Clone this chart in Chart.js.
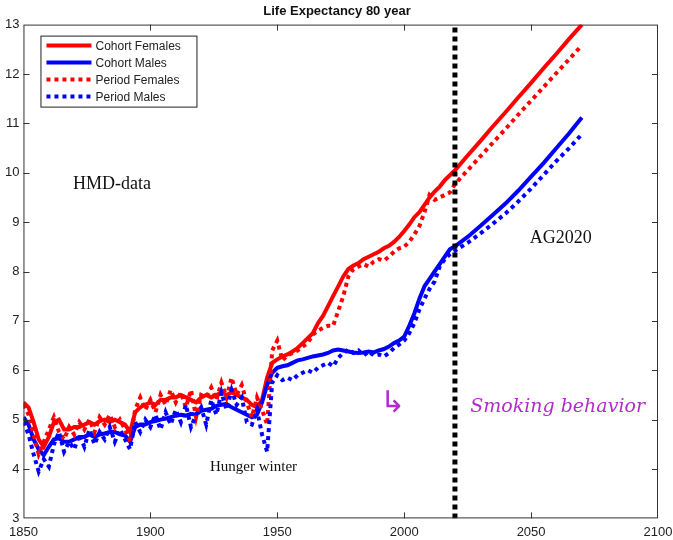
<!DOCTYPE html>
<html>
<head>
<meta charset="utf-8">
<script src="https://cdn.jsdelivr.net/npm/chart.js@4.4.0/dist/chart.umd.min.js"></script>
<style>
  html, body { margin: 0; padding: 0; background: #fff; }
  #wrap { width: 673px; height: 540px; }
</style>
</head>
<body>
<div id="wrap"><canvas id="chart"></canvas></div>
<script>
// years: two-yearly history, five-yearly projection
const years = [
  1850, 1852, 1854, 1856, 1858, 1860, 1862, 1864, 1866, 1868,
  1870, 1872, 1874, 1876, 1878, 1880, 1882, 1884, 1886, 1888,
  1890, 1892, 1894, 1896, 1898, 1900, 1902, 1904, 1906, 1908,
  1910, 1912, 1914, 1916, 1918, 1920, 1922, 1924, 1926, 1928,
  1930, 1932, 1934, 1936, 1938, 1940, 1942, 1944, 1946, 1948,
  1950, 1952, 1954, 1956, 1958, 1960, 1962, 1964, 1966, 1968,
  1970, 1972, 1974, 1976, 1978, 1980, 1982, 1984, 1986, 1988,
  1990, 1992, 1994, 1996, 1998, 2000, 2002, 2004, 2006, 2008,
  2010, 2012, 2014, 2016, 2018, 2020,
  2025, 2030, 2035, 2040, 2045, 2050, 2055, 2060, 2065, 2070
];

const cohortFemales = [
  5.35, 5.25, 4.95, 4.6, 4.45, 4.65, 4.95, 5.0, 4.8, 4.8,
  4.85, 4.85, 4.9, 4.95, 4.9, 4.97, 5.0, 4.95, 5.0, 4.95,
  4.9, 4.75, 5.15, 5.25, 5.3, 5.35, 5.3, 5.4, 5.4, 5.45,
  5.45, 5.5, 5.45, 5.4, 5.35, 5.45, 5.5, 5.45, 5.5, 5.55,
  5.5, 5.55, 5.5, 5.45, 5.4, 5.3, 5.25, 5.4, 5.85, 6.15,
  6.22, 6.28, 6.32, 6.38, 6.45, 6.55, 6.65, 6.75, 6.95, 7.1,
  7.3, 7.5, 7.7, 7.9, 8.05, 8.12, 8.17, 8.25, 8.3, 8.35,
  8.4, 8.47, 8.52, 8.6, 8.7, 8.82, 8.95, 9.1, 9.2, 9.35,
  9.5, 9.62, 9.72, 9.85, 9.95, 10.05,
  10.35, 10.64, 10.94, 11.23, 11.53, 11.82, 12.12, 12.41, 12.71, 13.0
];

const cohortMales = [
  5.05, 4.9, 4.6, 4.4, 4.28, 4.45, 4.6, 4.62, 4.55, 4.55,
  4.6, 4.65, 4.65, 4.7, 4.65, 4.7, 4.72, 4.75, 4.75, 4.7,
  4.68, 4.55, 4.85, 4.9, 4.9, 4.95, 4.97, 5.0, 5.02, 5.05,
  5.08, 5.1, 5.08, 5.12, 5.1, 5.18, 5.2, 5.22, 5.28, 5.3,
  5.32, 5.25, 5.2, 5.15, 5.1, 5.05, 5.1, 5.35, 5.7, 5.95,
  6.05, 6.08, 6.1, 6.15, 6.2, 6.22, 6.25, 6.28, 6.3, 6.32,
  6.35, 6.4, 6.42, 6.4, 6.38, 6.36, 6.35, 6.36, 6.38, 6.36,
  6.4, 6.43, 6.48, 6.55, 6.6, 6.68, 6.9, 7.15, 7.45, 7.7,
  7.85, 8.0, 8.15, 8.3, 8.45, 8.51,
  8.7, 8.92, 9.15, 9.38, 9.64, 9.92, 10.2, 10.5, 10.8, 11.12
];

const periodFemales = [
  5.3, 5.1, 4.7, 4.3, 4.55, 4.8, 5.05, 4.75, 4.6, 4.85,
  4.7, 4.95, 4.8, 5.0, 4.75, 5.05, 4.9, 5.1, 4.85, 5.0,
  4.8, 4.55, 5.2, 5.45, 5.2, 5.4, 5.15, 5.5, 5.3, 5.6,
  5.35, 5.55, 5.25, 5.6, 5.05, 5.5, 5.45, 5.65, 5.4, 5.75,
  5.45, 5.85, 5.5, 5.7, 5.35, 5.05, 5.45, 5.2, 4.9, 6.4,
  6.6, 6.2, 6.3, 6.35, 6.4, 6.48, 6.55, 6.72, 6.8, 6.86,
  6.9, 6.9, 7.2, 7.5, 7.9, 8.05, 8.1, 8.15, 8.1, 8.2,
  8.25, 8.22, 8.3, 8.4, 8.47, 8.5, 8.6, 8.75, 8.92, 9.2,
  9.55, 9.45, 9.5, 9.55, 9.6, 9.77,
  10.05, 10.33, 10.61, 10.89, 11.18, 11.46, 11.74, 12.02, 12.3, 12.58
];

const periodMales = [
  4.95, 4.7, 4.3, 3.95, 4.2, 4.05, 4.5, 4.75, 4.35, 4.55,
  4.4, 4.7, 4.45, 4.8, 4.5, 4.75, 4.6, 4.85, 4.55, 4.8,
  4.6, 4.4, 4.95, 4.75, 5.0, 4.85, 5.1, 4.8, 5.15, 4.9,
  5.2, 4.95, 5.3, 4.85, 5.1, 5.25, 4.9, 5.4, 5.1, 5.55,
  5.2, 5.6, 5.3, 5.45, 4.95, 4.9, 5.2, 4.7, 4.35, 5.75,
  5.9, 5.8, 5.85, 5.8, 5.9, 5.95, 6.0, 5.95, 6.05, 6.1,
  6.15, 6.08, 6.25, 6.35, 6.42, 6.35, 6.4, 6.3, 6.38, 6.3,
  6.32, 6.28, 6.35, 6.45, 6.52, 6.6, 6.75, 6.95, 7.23, 7.45,
  7.65, 7.8, 8.1, 8.25, 8.35, 8.42,
  8.58, 8.77, 8.97, 9.18, 9.42, 9.68, 9.96, 10.24, 10.5, 10.78
];

const seriesNames = ['Cohort Females', 'Cohort Males', 'Period Females', 'Period Males'];
const xTicks = [1850, 1900, 1950, 2000, 2050, 2100];
const yTicks = [3, 4, 5, 6, 7, 8, 9, 10, 11, 12, 13];
const cutYear = [2020, 2020];
const cutRange = [3, 13];

const RED = '#ff0000';
const BLUE = '#0000ff';
const AXIS = '#333333';
const SANS = '"Liberation Sans", Arial, sans-serif';

const toPoints = vals => years.map((x, i) => ({ x, y: vals[i] }));

// frame, inward ticks, legend box and the text notes
const decorations = {
  id: 'decorations',
  afterDatasetsDraw(chart) {
    const { ctx, chartArea: a, scales } = chart;
    const xs = scales.x, ys = scales.y;
    ctx.save();
    ctx.strokeStyle = AXIS;
    ctx.lineWidth = 1;
    ctx.strokeRect(a.left + 0.5, a.top + 0.5, a.right - a.left - 1, a.bottom - a.top - 1);
    ctx.beginPath();
    xTicks.slice(1, -1).forEach(v => {
      const px = Math.round(xs.getPixelForValue(v)) + 0.5;
      ctx.moveTo(px, a.bottom); ctx.lineTo(px, a.bottom - 6);
      ctx.moveTo(px, a.top); ctx.lineTo(px, a.top + 6);
    });
    yTicks.slice(1, -1).forEach(v => {
      const py = Math.round(ys.getPixelForValue(v)) + 0.5;
      ctx.moveTo(a.left, py); ctx.lineTo(a.left + 6, py);
      ctx.moveTo(a.right, py); ctx.lineTo(a.right - 6, py);
    });
    ctx.stroke();

    // legend
    const lx = a.left + 17, ly = a.top + 11, lw = 156, lh = 71;
    ctx.fillStyle = '#fff';
    ctx.fillRect(lx, ly, lw, lh);
    ctx.strokeStyle = '#222';
    ctx.strokeRect(lx + 0.5, ly + 0.5, lw, lh);
    chart.data.datasets.slice(1).forEach((ds, i) => {
      const row = ly + 10 + i * 17;
      ctx.beginPath();
      ctx.strokeStyle = ds.borderColor;
      ctx.lineWidth = 4;
      ctx.setLineDash(ds.borderDash || []);
      ctx.moveTo(lx + 6, row); ctx.lineTo(lx + 51, row);
      ctx.stroke();
      ctx.setLineDash([]);
      ctx.fillStyle = '#222';
      ctx.font = '12px ' + SANS;
      ctx.textBaseline = 'middle';
      ctx.fillText(ds.label, lx + 55, row + 1);
    });

    // notes
    ctx.fillStyle = '#111';
    ctx.textBaseline = 'alphabetic';
    ctx.font = '18px "Liberation Serif", "Times New Roman", serif';
    ctx.fillText('HMD-data', xs.getPixelForValue(1869.5), ys.getPixelForValue(9.68));
    ctx.fillText('AG2020', xs.getPixelForValue(2049.5), ys.getPixelForValue(8.58));
    ctx.font = '15px "Liberation Serif", "Times New Roman", serif';
    ctx.fillText('Hunger winter', xs.getPixelForValue(1923.5), ys.getPixelForValue(3.96));

    ctx.fillStyle = '#b22ccc';
    ctx.font = '30px "DejaVu Sans", sans-serif';
    ctx.fillText('\u21b3', xs.getPixelForValue(1990.5), ys.getPixelForValue(5.15));
    ctx.font = 'italic 19px "DejaVu Serif", serif';
    ctx.fillText('Smoking behavior', xs.getPixelForValue(2026), ys.getPixelForValue(5.15));
    ctx.restore();
  }
};

new Chart(document.getElementById('chart'), {
  type: 'line',
  data: {
    datasets: [
      {
        label: '2020',
        data: cutYear.map((x, i) => ({ x, y: cutRange[i] })),
        borderColor: '#000',
        borderWidth: 5,
        borderDash: [5, 4],
        pointRadius: 0,
        order: 0
      },
      {
        label: seriesNames[0],
        data: toPoints(cohortFemales),
        borderColor: RED,
        borderWidth: 4,
        pointRadius: 0,
        tension: 0,
        order: 4
      },
      {
        label: seriesNames[1],
        data: toPoints(cohortMales),
        borderColor: BLUE,
        borderWidth: 4,
        pointRadius: 0,
        tension: 0,
        order: 3
      },
      {
        label: seriesNames[2],
        data: toPoints(periodFemales),
        borderColor: RED,
        borderWidth: 4,
        borderDash: [4, 4],
        pointRadius: 0,
        tension: 0,
        order: 2
      },
      {
        label: seriesNames[3],
        data: toPoints(periodMales),
        borderColor: BLUE,
        borderWidth: 4,
        borderDash: [4, 4],
        pointRadius: 0,
        tension: 0,
        order: 1
      }
    ]
  },
  options: {
    responsive: true,
    maintainAspectRatio: false,
    animation: false,
    layout: { padding: { left: 1, right: 0, top: 4, bottom: -6 } },
    plugins: {
      legend: { display: false },
      tooltip: { enabled: false },
      title: {
        display: true,
        text: 'Life Expectancy 80 year',
        color: '#111',
        font: { family: SANS, size: 13, weight: 'bold' },
        padding: { top: 0, bottom: 5 }
      }
    },
    scales: {
      x: {
        type: 'linear',
        min: 1850,
        max: 2100,
        afterBuildTicks: s => { s.ticks = xTicks.map(value => ({ value })); },
        afterFit: s => { s.paddingRight = 15; },
        grid: { display: false, drawTicks: false },
        border: { display: false },
        ticks: {
          color: '#222',
          padding: 6,
          maxRotation: 0,
          callback: v => String(v),
          font: { family: SANS, size: 13 }
        }
      },
      y: {
        min: 3,
        max: 13,
        afterBuildTicks: s => { s.ticks = yTicks.map(value => ({ value })); },
        grid: { display: false, drawTicks: false },
        border: { display: false },
        ticks: {
          color: '#222',
          padding: 4,
          callback: v => String(v),
          font: { family: SANS, size: 13 }
        }
      }
    }
  },
  plugins: [decorations]
});
</script>
</body>
</html>
